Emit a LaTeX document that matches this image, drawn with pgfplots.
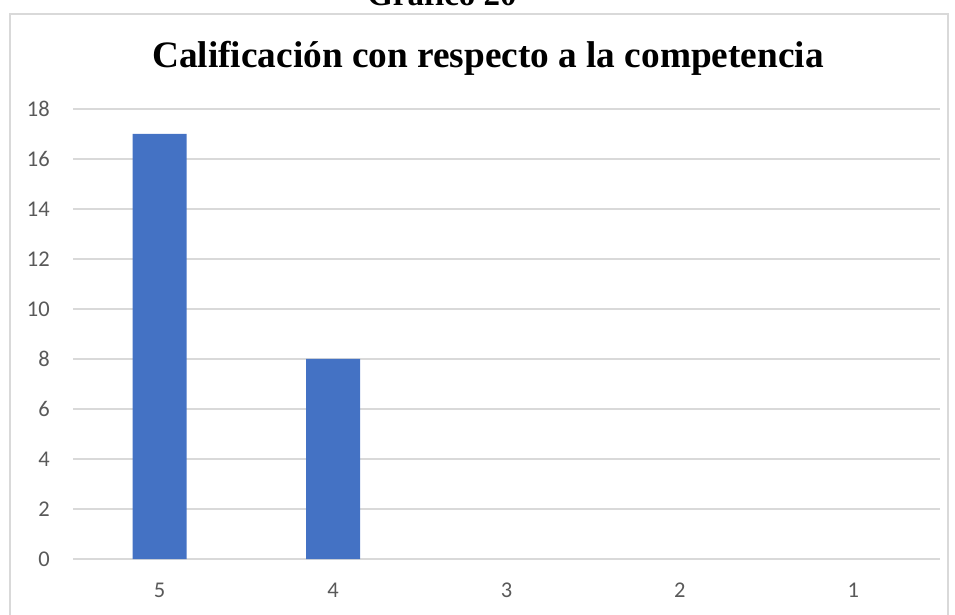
\documentclass[border=0pt]{standalone}
\usepackage{pgfplots}
\pgfplotsset{compat=1.18}
\usepackage{fontspec}
\setmainfont{Liberation Serif}
\newfontfamily\calibri{Carlito}
\definecolor{barblue}{RGB}{68,114,196}
\definecolor{gridgray}{RGB}{217,217,217}
\definecolor{labgray}{RGB}{89,89,89}
\newcommand\tickfont{\fontsize{22.5bp}{26bp}\calibri}
\begin{document}
\begin{tikzpicture}
\path[use as bounding box] (0bp,0bp) rectangle (955bp,615bp);
\draw[gridgray, line width=1.2bp] (10bp,-5bp) -- (10bp,601bp) -- (948bp,601bp) -- (948bp,-5bp);
\node[anchor=base, inner sep=0pt, font=\bfseries\fontsize{33bp}{36bp}\selectfont] at (442bp,609bp) {Gráfico 20};
\node[anchor=base, inner sep=0pt, font=\bfseries\fontsize{37.3bp}{42bp}\selectfont] at (488bp,547bp) {Calificación con respecto a la competencia};
\begin{axis}[
  at={(73bp,56bp)}, anchor=south west,
  scale only axis, width=867bp, height=450bp,
  xmin=-0.5, xmax=4.5, ymin=0, ymax=18,
  xtick={0,1,2,3,4}, xticklabels={{\tickfont 5},{\tickfont 4},{\tickfont 3},{\tickfont 2},{\tickfont 1}},
  ytick={0,2,...,18},
  yticklabel={\tickfont\pgfmathprintnumber{\tick}},
  ymajorgrids, grid style={gridgray, line width=1.2bp},
  axis line style={draw=none}, major tick length=0pt,
  tick label style={text=labgray},
  /pgf/number format/assume math mode=true,
  yticklabel style={inner sep=0pt, anchor=east, xshift=-23bp},
  xticklabel style={inner sep=0pt, anchor=north, yshift=-24bp},
  clip=false,
]
\addplot[ybar, bar width=54bp, fill=barblue, draw=none] coordinates {(0,17) (1,8)};
\end{axis}
\end{tikzpicture}
\end{document}
